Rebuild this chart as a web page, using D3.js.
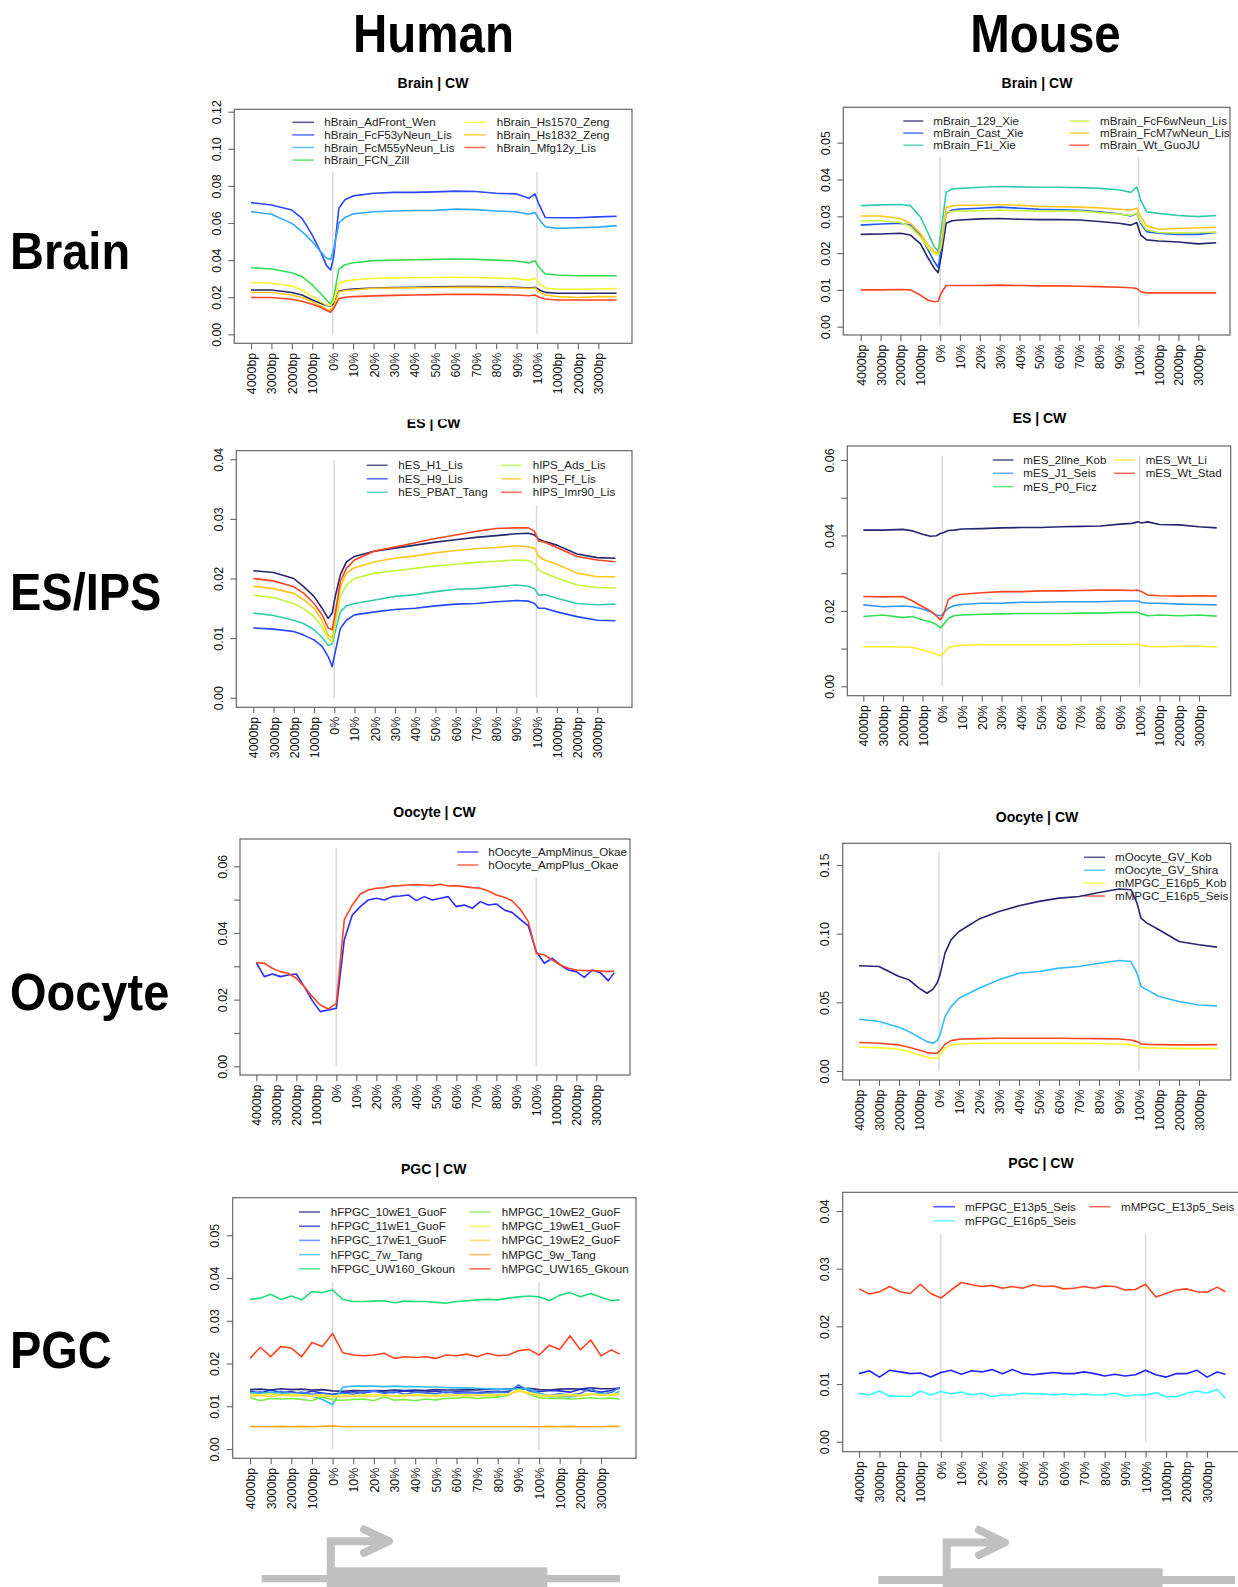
<!DOCTYPE html>
<html>
<head>
<meta charset="utf-8">
<script src="https://cdn.jsdelivr.net/npm/d3@7"></script>
<style>
  body { margin: 0; background: #fff; }
  svg { display: block; }
  text { font-family: "Liberation Sans", Arial, Helvetica, sans-serif; }
</style>
</head>
<body>
<svg id="fig" width="1238" height="1587"></svg>
<script>
// x positions are in "tick units": 0 = 4000bp upstream, 4 = TSS (0%), 14 = TES (100%)
let tickLabels = ["4000bp", "3000bp", "2000bp", "1000bp", "0%", "10%", "20%", "30%", "40%", "50%",
  "60%", "70%", "80%", "90%", "100%", "1000bp", "2000bp", "3000bp"];

let smoothPos = [0, 1, 2, 2.5, 3, 3.4, 3.7, 3.9, 4.05, 4.3, 4.6, 5, 6, 7, 8, 9, 10, 11, 12, 13,
  13.6, 13.9, 14.1, 14.4, 15, 16, 17, 17.9];
let oocytePos = [0, 0.4, 0.8, 1.2, 1.6, 2, 2.4, 2.8, 3.2, 3.6, 4, 4.4, 4.8, 5.2, 5.6, 6, 6.4, 6.8, 7.2, 7.6,
  8, 8.4, 8.8, 9.2, 9.6, 10, 10.4, 10.8, 11.2, 11.6, 12, 12.4, 12.8, 13.2, 13.6, 14, 14.4, 14.8, 15.2, 15.6,
  16, 16.4, 16.8, 17.2, 17.6, 17.9];
let pgcPos = [0, 0.5, 1, 1.5, 2, 2.5, 3, 3.5, 4, 4.5, 5, 5.5, 6, 6.5, 7, 7.5, 8, 8.5, 9, 9.5, 10, 10.5,
  11, 11.5, 12, 12.5, 13, 13.5, 14, 14.5, 15, 15.5, 16, 16.5, 17, 17.5, 17.9];

// ---- Human brain
let hBrainNames = ["hBrain_AdFront_Wen", "hBrain_FcF53yNeun_Lis", "hBrain_FcM55yNeun_Lis", "hBrain_FCN_Zill",
  "hBrain_Hs1570_Zeng", "hBrain_Hs1832_Zeng", "hBrain_Mfg12y_Lis"];
let hBrainValues = [
  [0.0239,0.0239,0.0225,0.0212,0.0185,0.0167,0.0155,0.0153,0.0165,0.0232,0.0240,0.0244,0.0250,0.0252,0.0254,0.0256,0.0257,0.0257,0.0256,0.0253,0.0250,0.0253,0.0240,0.0226,0.0221,0.0221,0.0221,0.0221],
  [0.0710,0.0697,0.0670,0.0625,0.0535,0.0446,0.0370,0.0347,0.0420,0.0680,0.0725,0.0746,0.0760,0.0765,0.0765,0.0768,0.0772,0.0770,0.0760,0.0757,0.0733,0.0757,0.0700,0.0630,0.0628,0.0628,0.0633,0.0636],
  [0.0661,0.0647,0.0598,0.0553,0.0500,0.0446,0.0410,0.0404,0.0460,0.0600,0.0630,0.0649,0.0661,0.0665,0.0667,0.0668,0.0675,0.0672,0.0665,0.0660,0.0647,0.0656,0.0620,0.0580,0.0571,0.0574,0.0578,0.0586],
  [0.0359,0.0352,0.0332,0.0311,0.0266,0.0221,0.0185,0.0162,0.0200,0.0352,0.0375,0.0386,0.0397,0.0400,0.0402,0.0404,0.0406,0.0404,0.0400,0.0395,0.0385,0.0397,0.0360,0.0325,0.0320,0.0316,0.0316,0.0316],
  [0.0279,0.0275,0.0260,0.0239,0.0203,0.0176,0.0158,0.0156,0.0180,0.0275,0.0287,0.0293,0.0302,0.0304,0.0305,0.0306,0.0307,0.0306,0.0303,0.0300,0.0292,0.0302,0.0275,0.0250,0.0243,0.0243,0.0244,0.0246],
  [0.0225,0.0225,0.0212,0.0198,0.0176,0.0153,0.0135,0.0128,0.0150,0.0228,0.0236,0.0239,0.0248,0.0250,0.0251,0.0252,0.0253,0.0253,0.0252,0.0250,0.0247,0.0250,0.0228,0.0212,0.0203,0.0198,0.0203,0.0203],
  [0.0198,0.0198,0.0189,0.0178,0.0162,0.0146,0.0128,0.0119,0.0140,0.0192,0.0200,0.0203,0.0207,0.0210,0.0212,0.0214,0.0216,0.0215,0.0214,0.0212,0.0208,0.0212,0.0200,0.0190,0.0185,0.0185,0.0185,0.0185]
];
let hBrainColors = ["#26266e", "#2b47ff", "#33aaff", "#33dd55", "#f4f430", "#ffc61a", "#ff4422"];

// ---- Mouse brain
let mBrainNames = ["mBrain_129_Xie", "mBrain_Cast_Xie", "mBrain_F1i_Xie", "mBrain_FcF6wNeun_Lis",
  "mBrain_FcM7wNeun_Lis", "mBrain_Wt_GuoJU"];
let mBrainValues = [
  [0.0251,0.0252,0.0254,0.0249,0.0226,0.0186,0.0159,0.0147,0.0190,0.0281,0.0288,0.0290,0.0293,0.0294,0.0292,0.0291,0.0291,0.0290,0.0286,0.0281,0.0276,0.0283,0.0249,0.0236,0.0233,0.0230,0.0225,0.0228],
  [0.0276,0.0279,0.0281,0.0276,0.0249,0.0208,0.0177,0.0161,0.0208,0.0308,0.0317,0.0320,0.0322,0.0325,0.0322,0.0319,0.0318,0.0316,0.0312,0.0307,0.0301,0.0308,0.0281,0.0258,0.0254,0.0251,0.0251,0.0256],
  [0.0329,0.0331,0.0332,0.0329,0.0299,0.0254,0.0217,0.0204,0.0260,0.0365,0.0374,0.0376,0.0379,0.0381,0.0380,0.0379,0.0379,0.0378,0.0376,0.0372,0.0365,0.0380,0.0344,0.0312,0.0308,0.0302,0.0299,0.0302],
  [0.0288,0.0288,0.0283,0.0272,0.0245,0.0213,0.0199,0.0195,0.0217,0.0312,0.0313,0.0314,0.0315,0.0317,0.0315,0.0314,0.0314,0.0314,0.0310,0.0306,0.0303,0.0308,0.0285,0.0263,0.0256,0.0255,0.0256,0.0257],
  [0.0301,0.0301,0.0294,0.0281,0.0254,0.0222,0.0204,0.0199,0.0226,0.0324,0.0328,0.0330,0.0330,0.0332,0.0330,0.0327,0.0326,0.0325,0.0323,0.0319,0.0317,0.0322,0.0299,0.0274,0.0265,0.0267,0.0269,0.0270],
  [0.0100,0.0100,0.0101,0.0100,0.0086,0.0072,0.0068,0.0069,0.0091,0.0112,0.0112,0.0112,0.0112,0.0113,0.0112,0.0111,0.0111,0.0110,0.0109,0.0107,0.0106,0.0104,0.0095,0.0092,0.0092,0.0092,0.0092,0.0092]
];
let mBrainColors = ["#26266e", "#2255ff", "#33ccaa", "#c8f53a", "#ffc61a", "#ff4422"];

// ---- Human ES / IPS
let hEsNames = ["hES_H1_Lis", "hES_H9_Lis", "hES_PBAT_Tang", "hIPS_Ads_Lis", "hIPS_Ff_Lis", "hIPS_Imr90_Lis"];
let hEsValues = [
  [0.0213,0.0210,0.0200,0.0186,0.0170,0.0150,0.0133,0.0142,0.0170,0.0206,0.0228,0.0237,0.0246,0.0251,0.0256,0.0261,0.0265,0.0269,0.0272,0.0275,0.0276,0.0273,0.0266,0.0262,0.0256,0.0241,0.0235,0.0234],
  [0.0117,0.0115,0.0111,0.0105,0.0097,0.0086,0.0069,0.0052,0.0077,0.0116,0.0130,0.0139,0.0144,0.0148,0.0150,0.0154,0.0157,0.0158,0.0161,0.0163,0.0162,0.0158,0.0150,0.0150,0.0144,0.0136,0.0130,0.0129],
  [0.0142,0.0138,0.0130,0.0124,0.0114,0.0101,0.0088,0.0090,0.0111,0.0144,0.0154,0.0158,0.0164,0.0170,0.0173,0.0178,0.0182,0.0183,0.0186,0.0189,0.0187,0.0183,0.0172,0.0173,0.0167,0.0158,0.0156,0.0157],
  [0.0172,0.0168,0.0158,0.0149,0.0136,0.0119,0.0100,0.0093,0.0122,0.0170,0.0189,0.0200,0.0209,0.0213,0.0217,0.0221,0.0224,0.0227,0.0229,0.0231,0.0230,0.0225,0.0214,0.0209,0.0201,0.0189,0.0185,0.0184],
  [0.0187,0.0183,0.0175,0.0164,0.0150,0.0130,0.0105,0.0100,0.0133,0.0186,0.0209,0.0218,0.0228,0.0234,0.0238,0.0243,0.0247,0.0250,0.0252,0.0255,0.0253,0.0251,0.0237,0.0231,0.0224,0.0209,0.0203,0.0203],
  [0.0200,0.0196,0.0186,0.0175,0.0158,0.0139,0.0117,0.0114,0.0142,0.0195,0.0217,0.0231,0.0246,0.0253,0.0260,0.0267,0.0273,0.0279,0.0284,0.0285,0.0285,0.0279,0.0263,0.0261,0.0252,0.0237,0.0231,0.0228]
];
let hEsColors = ["#26266e", "#2447ff", "#33ccaa", "#c0f53a", "#ffc61a", "#ff4422"];

// ---- Mouse ES
let mEsNames = ["mES_2line_Kob", "mES_J1_Seis", "mES_P0_Ficz", "mES_Wt_Li", "mES_Wt_Stad"];
let mEsValues = [
  [0.0414,0.0414,0.0416,0.0412,0.0403,0.0398,0.0399,0.0405,0.0407,0.0413,0.0414,0.0417,0.0418,0.0420,0.0421,0.0421,0.0423,0.0424,0.0425,0.0430,0.0432,0.0436,0.0433,0.0436,0.0429,0.0428,0.0423,0.0420],
  [0.0216,0.0211,0.0213,0.0211,0.0205,0.0198,0.0189,0.0187,0.0193,0.0207,0.0214,0.0217,0.0220,0.0220,0.0223,0.0223,0.0224,0.0224,0.0224,0.0226,0.0226,0.0226,0.0222,0.0220,0.0220,0.0218,0.0217,0.0216],
  [0.0185,0.0189,0.0182,0.0185,0.0176,0.0171,0.0164,0.0155,0.0163,0.0180,0.0187,0.0189,0.0191,0.0192,0.0193,0.0193,0.0193,0.0194,0.0194,0.0196,0.0196,0.0196,0.0192,0.0187,0.0189,0.0187,0.0189,0.0186],
  [0.0105,0.0105,0.0104,0.0103,0.0096,0.0090,0.0085,0.0081,0.0087,0.0102,0.0107,0.0109,0.0110,0.0110,0.0110,0.0110,0.0110,0.0111,0.0111,0.0111,0.0111,0.0112,0.0108,0.0106,0.0105,0.0106,0.0106,0.0104],
  [0.0238,0.0237,0.0238,0.0226,0.0211,0.0200,0.0187,0.0176,0.0189,0.0229,0.0240,0.0244,0.0248,0.0251,0.0251,0.0253,0.0253,0.0254,0.0255,0.0255,0.0254,0.0255,0.0251,0.0242,0.0240,0.0239,0.0240,0.0239]
];
let mEsColors = ["#26266e", "#3399ff", "#33e055", "#ffe82a", "#ff4422"];

// ---- Human oocyte
let hOocyteNames = ["hOocyte_AmpMinus_Okae", "hOocyte_AmpPlus_Okae"];
let hOocyteValues = [
  [0.0311,0.0269,0.0277,0.0269,0.0274,0.0277,0.0239,0.0197,0.0164,0.0169,0.0174,0.0380,0.0454,0.0479,0.0499,0.0504,0.0499,0.0509,0.0511,0.0514,0.0497,0.0509,0.0499,0.0504,0.0509,0.0479,0.0484,0.0474,0.0494,0.0484,0.0487,0.0469,0.0461,0.0441,0.0421,0.0344,0.0309,0.0324,0.0304,0.0289,0.0284,0.0267,0.0289,0.0281,0.0257,0.0281],
  [0.0311,0.0309,0.0294,0.0284,0.0279,0.0264,0.0239,0.0209,0.0184,0.0172,0.0189,0.0440,0.0484,0.0517,0.0529,0.0534,0.0536,0.0541,0.0542,0.0544,0.0545,0.0544,0.0542,0.0546,0.0541,0.0542,0.0539,0.0536,0.0534,0.0526,0.0514,0.0507,0.0496,0.0471,0.0434,0.0339,0.0334,0.0319,0.0304,0.0294,0.0289,0.0287,0.0287,0.0286,0.0284,0.0286]
];
let hOocyteColors = ["#2a2aff", "#ff4422"];

// ---- Mouse oocyte
let mOocyteNames = ["mOocyte_GV_Kob", "mOocyte_GV_Shira", "mMPGC_E16p5_Kob", "mMPGC_E16p5_Seis"];
let mOocyteValues = [
  [0.0766,0.0761,0.0688,0.0664,0.0603,0.0566,0.0596,0.0639,0.0700,0.0858,0.0955,0.1016,0.1106,0.1162,0.1203,0.1235,0.1259,0.1271,0.1300,0.1325,0.1320,0.1223,0.1113,0.1077,0.1028,0.0943,0.0919,0.0902],
  [0.0377,0.0360,0.0318,0.0287,0.0246,0.0214,0.0202,0.0221,0.0263,0.0396,0.0469,0.0530,0.0603,0.0664,0.0712,0.0724,0.0749,0.0761,0.0785,0.0805,0.0797,0.0712,0.0615,0.0591,0.0542,0.0506,0.0481,0.0474],
  [0.0173,0.0170,0.0158,0.0141,0.0117,0.0100,0.0092,0.0092,0.0117,0.0165,0.0190,0.0197,0.0202,0.0202,0.0202,0.0202,0.0202,0.0201,0.0200,0.0197,0.0190,0.0182,0.0170,0.0168,0.0167,0.0163,0.0163,0.0163],
  [0.0207,0.0202,0.0190,0.0173,0.0153,0.0134,0.0129,0.0129,0.0148,0.0194,0.0221,0.0231,0.0236,0.0238,0.0238,0.0238,0.0238,0.0237,0.0236,0.0233,0.0226,0.0214,0.0197,0.0194,0.0192,0.0190,0.0190,0.0192]
];
let mOocyteColors = ["#26266e", "#33bbff", "#f7f72a", "#ff4422"];

// ---- Human PGC
let hPgcNames = ["hFPGC_10wE1_GuoF", "hFPGC_11wE1_GuoF", "hFPGC_17wE1_GuoF", "hFPGC_7w_Tang", "hFPGC_UW160_Gkoun",
  "hMPGC_10wE2_GuoF", "hMPGC_19wE1_GuoF", "hMPGC_19wE2_GuoF", "hMPGC_9w_Tang", "hMPGC_UW165_Gkoun"];
let hPgcValues = [
  [0.0139,0.0140,0.0138,0.0141,0.0139,0.0140,0.0138,0.0139,0.0136,0.0135,0.0137,0.0136,0.0137,0.0136,0.0138,0.0137,0.0138,0.0137,0.0139,0.0138,0.0138,0.0139,0.0138,0.0140,0.0139,0.0141,0.0140,0.0142,0.0139,0.0138,0.0140,0.0141,0.0140,0.0143,0.0141,0.0141,0.0142],
  [0.0135,0.0131,0.0138,0.0132,0.0134,0.0130,0.0135,0.0131,0.0128,0.0132,0.0134,0.0131,0.0135,0.0133,0.0132,0.0136,0.0134,0.0133,0.0135,0.0132,0.0134,0.0133,0.0132,0.0134,0.0133,0.0135,0.0145,0.0138,0.0134,0.0137,0.0136,0.0133,0.0140,0.0136,0.0133,0.0137,0.0142],
  [0.0130,0.0134,0.0127,0.0135,0.0129,0.0133,0.0128,0.0130,0.0126,0.0131,0.0128,0.0133,0.0136,0.0130,0.0134,0.0128,0.0133,0.0131,0.0129,0.0134,0.0130,0.0132,0.0131,0.0130,0.0133,0.0132,0.0150,0.0136,0.0130,0.0125,0.0129,0.0126,0.0130,0.0142,0.0128,0.0132,0.0145],
  [0.0132,0.0130,0.0133,0.0131,0.0130,0.0128,0.0124,0.0116,0.0104,0.0145,0.0147,0.0147,0.0147,0.0146,0.0147,0.0146,0.0146,0.0145,0.0145,0.0144,0.0143,0.0143,0.0142,0.0141,0.0140,0.0140,0.0140,0.0141,0.0130,0.0122,0.0123,0.0122,0.0125,0.0128,0.0130,0.0126,0.0135],
  [0.0350,0.0353,0.0362,0.0350,0.0358,0.0349,0.0368,0.0366,0.0372,0.0350,0.0345,0.0345,0.0346,0.0347,0.0342,0.0346,0.0345,0.0345,0.0343,0.0341,0.0345,0.0347,0.0349,0.0350,0.0349,0.0353,0.0356,0.0358,0.0356,0.0347,0.0360,0.0366,0.0356,0.0364,0.0355,0.0347,0.0349],
  [0.0120,0.0113,0.0118,0.0117,0.0118,0.0116,0.0113,0.0122,0.0115,0.0114,0.0116,0.0117,0.0113,0.0122,0.0114,0.0116,0.0113,0.0117,0.0115,0.0118,0.0119,0.0121,0.0118,0.0120,0.0122,0.0125,0.0140,0.0128,0.0120,0.0118,0.0119,0.0117,0.0118,0.0120,0.0118,0.0119,0.0117],
  [0.0128,0.0127,0.0129,0.0126,0.0128,0.0127,0.0125,0.0127,0.0124,0.0126,0.0125,0.0126,0.0127,0.0126,0.0125,0.0126,0.0127,0.0126,0.0125,0.0127,0.0126,0.0127,0.0126,0.0128,0.0127,0.0128,0.0138,0.0132,0.0127,0.0125,0.0126,0.0127,0.0126,0.0130,0.0127,0.0128,0.0130],
  [0.0124,0.0125,0.0123,0.0126,0.0124,0.0125,0.0123,0.0124,0.0122,0.0123,0.0124,0.0123,0.0124,0.0125,0.0123,0.0124,0.0125,0.0124,0.0123,0.0124,0.0125,0.0124,0.0125,0.0124,0.0126,0.0127,0.0135,0.0130,0.0124,0.0123,0.0124,0.0125,0.0124,0.0128,0.0125,0.0126,0.0128],
  [0.0053,0.0052,0.0052,0.0053,0.0052,0.0053,0.0052,0.0053,0.0054,0.0052,0.0052,0.0052,0.0052,0.0052,0.0052,0.0052,0.0052,0.0052,0.0052,0.0052,0.0052,0.0052,0.0052,0.0052,0.0052,0.0052,0.0052,0.0052,0.0052,0.0053,0.0052,0.0053,0.0052,0.0052,0.0052,0.0053,0.0053],
  [0.0212,0.0238,0.0216,0.0240,0.0236,0.0216,0.0249,0.0240,0.0270,0.0225,0.0220,0.0218,0.0220,0.0224,0.0212,0.0216,0.0214,0.0216,0.0212,0.0220,0.0218,0.0222,0.0216,0.0224,0.0218,0.0220,0.0230,0.0233,0.0220,0.0243,0.0233,0.0265,0.0232,0.0255,0.0218,0.0232,0.0222]
];
let hPgcColors = ["#2a2a7a", "#2233cc", "#4477ff", "#33bbee", "#22dd77", "#77ee44", "#f5f540", "#ffd83a", "#ffaa22", "#ff4422"];

// ---- Mouse PGC
let mPgcNames = ["mFPGC_E13p5_Seis", "mFPGC_E16p5_Seis", "mMPGC_E13p5_Seis"];
let mPgcValues = [
  [0.0118,0.0123,0.0112,0.0124,0.0121,0.0118,0.0119,0.0112,0.0120,0.0124,0.0117,0.0123,0.0121,0.0125,0.0118,0.0125,0.0118,0.0116,0.0118,0.0120,0.0118,0.0118,0.0121,0.0118,0.0114,0.0117,0.0114,0.0116,0.0124,0.0116,0.0112,0.0118,0.0118,0.0124,0.0112,0.0121,0.0117],
  [0.0084,0.0081,0.0088,0.0079,0.0079,0.0078,0.0088,0.0081,0.0087,0.0083,0.0086,0.0081,0.0084,0.0078,0.0081,0.0081,0.0084,0.0083,0.0083,0.0081,0.0083,0.0081,0.0083,0.0081,0.0081,0.0084,0.0079,0.0081,0.0081,0.0085,0.0078,0.0078,0.0084,0.0088,0.0084,0.0091,0.0075],
  [0.0265,0.0256,0.0260,0.0269,0.0260,0.0257,0.0273,0.0257,0.0249,0.0263,0.0276,0.0272,0.0269,0.0271,0.0266,0.0269,0.0266,0.0272,0.0269,0.0270,0.0265,0.0266,0.0269,0.0266,0.0270,0.0269,0.0263,0.0264,0.0273,0.0251,0.0257,0.0263,0.0265,0.0260,0.0259,0.0268,0.0260]
];
let mPgcColors = ["#2222ff", "#33ffff", "#ff4422"];

let rowLabels = [["Brain", 269], ["ES/IPS", 610], ["Oocyte", 1010], ["PGC", 1368]];
let colLabels = [["Human", 433.5, 52], ["Mouse", 1045.5, 52]];

let panels = [
  { title: "Brain | CW", tx: 433, ty: 88, box: [234.3, 109.3, 632, 343.3], x0: 251, x17: 598.3,
    y0: 334.3, yTop: 111.7, yMax: 0.12, yStep: 0.02, labelEvery: 1,
    names: hBrainNames, values: hBrainValues, colors: hBrainColors, pos: smoothPos,
    leg: { row1: 122.3, dy: 12.6, cols: [[292.3, 314, 324.3], [464.3, 485.7, 496.7]], perCol: 4, bg: true } },
  { title: "Brain | CW", tx: 1037, ty: 88.3, box: [843.3, 107.3, 1230, 335], x0: 860.7, x17: 1198.3,
    y0: 326.7, yTop: 142.7, yMax: 0.05, yStep: 0.01, labelEvery: 1,
    names: mBrainNames, values: mBrainValues, colors: mBrainColors, pos: smoothPos,
    leg: { row1: 121, dy: 12.1, cols: [[903.3, 923.3, 933.3], [1069.3, 1089.3, 1100]], perCol: 3, bg: true } },
  { title: "ES | CW", tx: 433.7, ty: 427.7, clipTop: 419.5, box: [236.3, 450.7, 632, 707.3], x0: 253.3, x17: 597.3,
    y0: 697.7, yTop: 459.3, yMax: 0.04, yStep: 0.01, labelEvery: 1,
    names: hEsNames, values: hEsValues, colors: hEsColors, pos: smoothPos,
    leg: { row1: 465.3, dy: 13.5, cols: [[366.7, 387.7, 398.3], [501, 521.7, 532.7]], perCol: 3, bg: true } },
  { title: "ES | CW", tx: 1039.5, ty: 423.3, box: [847.3, 446, 1230.7, 695.7], x0: 863.3, x17: 1199,
    y0: 686.3, yTop: 460, yMax: 0.06, yStep: 0.01, labelEvery: 2,
    names: mEsNames, values: mEsValues, colors: mEsColors, pos: smoothPos,
    leg: { row1: 460, dy: 13.3, cols: [[992.7, 1013.3, 1023.3], [1114, 1135, 1145.7]], perCol: 3, bg: false } },
  { title: "Oocyte | CW", tx: 434.5, ty: 817.3, box: [240, 839, 630, 1075], x0: 256.3, x17: 596.3,
    y0: 1066.3, yTop: 866.3, yMax: 0.06, yStep: 0.01, labelEvery: 2,
    names: hOocyteNames, values: hOocyteValues, colors: hOocyteColors, pos: oocytePos,
    leg: { row1: 852, dy: 13, cols: [[457.3, 478.3, 488.3]], perCol: 2, bg: true } },
  { title: "Oocyte | CW", tx: 1037, ty: 822.3, box: [842.7, 843.3, 1230.7, 1080], x0: 859, x17: 1199,
    y0: 1071, yTop: 865, yMax: 0.15, yStep: 0.05, labelEvery: 1,
    names: mOocyteNames, values: mOocyteValues, colors: mOocyteColors, pos: smoothPos,
    leg: { row1: 857.3, dy: 12.9, cols: [[1084, 1105, 1115]], perCol: 4, bg: true } },
  { title: "PGC | CW", tx: 433.7, ty: 1174.3, box: [232.7, 1197.7, 636, 1458.3], x0: 250, x17: 601,
    y0: 1449, yTop: 1235.3, yMax: 0.05, yStep: 0.01, labelEvery: 1,
    names: hPgcNames, values: hPgcValues, colors: hPgcColors, pos: pgcPos,
    leg: { row1: 1212, dy: 14.2, cols: [[299, 320, 330.7], [469.3, 490.7, 501.7]], perCol: 5, bg: true } },
  { title: "PGC | CW", tx: 1041, ty: 1168.3, box: [842.7, 1192.3, 1240, 1451.7], x0: 859, x17: 1207,
    y0: 1441.7, yTop: 1211, yMax: 0.04, yStep: 0.01, labelEvery: 1,
    names: mPgcNames, values: mPgcValues, colors: mPgcColors, pos: pgcPos,
    leg: { row1: 1206.7, dy: 14, cols: [[933.3, 955, 965], [1089.3, 1110.7, 1121]], perCol: 2, bg: true } }
];

const svg = d3.select("#fig");
const boxColor = "#666";
const gray = "#c0c0c0";

const drawPanel = (p, idx) => {
  let g = svg.append("g");
  let x = d3.scaleLinear().domain([0, 17]).range([p.x0, p.x17]);
  let y = d3.scaleLinear().domain([0, p.yMax]).range([p.y0, p.yTop]);
  let [L, T, R, B] = p.box;

  // title (one of them is partly hidden in the original montage)
  let title = g.append("text")
    .attr("x", p.tx).attr("y", p.ty)
    .attr("text-anchor", "middle")
    .attr("font-size", 14).attr("font-weight", "bold")
    .text(p.title);
  if (p.clipTop) {
    svg.append("clipPath").attr("id", "clip" + idx)
      .append("rect").attr("x", p.tx - 80).attr("y", p.clipTop).attr("width", 160).attr("height", 40);
    title.attr("clip-path", `url(#clip${idx})`);
  }

  // vertical markers at TSS and TES
  let vTop = T + (B - p.y0);
  g.selectAll("line.mark").data([4, 14]).enter().append("line")
    .attr("x1", d => x(d)).attr("x2", d => x(d))
    .attr("y1", vTop).attr("y2", p.y0)
    .attr("stroke", "#dadada").attr("stroke-width", 1.5);

  // axes
  let xAxis = d3.axisBottom(x).tickValues(d3.range(18))
    .tickFormat(i => tickLabels[i]).tickSize(6).tickSizeOuter(0);
  let gx = g.append("g").attr("transform", `translate(0,${B})`).call(xAxis);
  gx.select(".domain").remove();
  gx.selectAll("line").attr("stroke", boxColor).attr("stroke-width", 1.1);
  gx.selectAll("text")
    .attr("transform", "rotate(-90)")
    .attr("x", -9.5).attr("y", 0).attr("dy", "0.36em")
    .attr("text-anchor", "end")
    .attr("font-size", 12.4).attr("fill", "#111")
    .attr("font-family", "'Liberation Sans', Arial, sans-serif");

  let yTicks = d3.range(0, p.yMax + p.yStep / 2, p.yStep);
  let yAxis = d3.axisLeft(y).tickValues(yTicks)
    .tickFormat((d, i) => i % p.labelEvery === 0 ? d3.format(".2f")(d) : "")
    .tickSize(6).tickSizeOuter(0);
  let gy = g.append("g").attr("transform", `translate(${L},0)`).call(yAxis);
  gy.select(".domain").remove();
  gy.selectAll("line").attr("stroke", boxColor).attr("stroke-width", 1.1);
  gy.selectAll("text")
    .attr("transform", "rotate(-90)")
    .attr("x", 0).attr("y", -13.5).attr("dy", 0)
    .attr("text-anchor", "middle")
    .attr("font-size", 12.4).attr("fill", "#111")
    .attr("font-family", "'Liberation Sans', Arial, sans-serif");

  // legend
  let leg = p.leg;
  let lastCol = leg.cols[leg.cols.length - 1];
  if (leg.bg) {
    let rows = Math.min(leg.perCol, p.names.length);
    let longest = d3.max(p.names.slice(leg.perCol * (leg.cols.length - 1)), n => n.length);
    g.append("rect")
      .attr("x", leg.cols[0][0] - 8)
      .attr("y", leg.row1 - leg.dy + 2)
      .attr("width", lastCol[2] + longest * 6.6 + 6 - (leg.cols[0][0] - 8))
      .attr("height", leg.dy * (rows + 0.8))
      .attr("fill", "#fff");
  }
  p.names.forEach((name, i) => {
    let c = leg.cols[Math.floor(i / leg.perCol)];
    let ry = leg.row1 + (i % leg.perCol) * leg.dy;
    g.append("line")
      .attr("x1", c[0]).attr("x2", c[1]).attr("y1", ry).attr("y2", ry)
      .attr("stroke", p.colors[i]).attr("stroke-width", 1.6).attr("opacity", 0.75);
    g.append("text")
      .attr("x", c[2]).attr("y", ry + 4)
      .attr("font-size", 11.6).attr("fill", "#222")
      .text(name);
  });

  // box
  g.append("rect")
    .attr("x", L).attr("y", T).attr("width", R - L).attr("height", B - T)
    .attr("fill", "none").attr("stroke", boxColor).attr("stroke-width", 1.2);

  // data lines
  let line = d3.line().x((d, i) => x(p.pos[i])).y(d => y(d));
  p.values.forEach((vals, i) => {
    if (vals.length !== p.pos.length) console.error("length mismatch", p.names[i], vals.length, p.pos.length);
    g.append("path")
      .attr("d", line(vals))
      .attr("fill", "none")
      .attr("stroke", p.colors[i])
      .attr("stroke-width", 1.6)
      .attr("stroke-linejoin", "round");
  });
};

panels.forEach(drawPanel);

// big labels
colLabels.forEach(([t, cx, by]) => {
  svg.append("text")
    .attr("transform", `translate(${cx},${by}) scale(1,1.12)`)
    .attr("text-anchor", "middle")
    .attr("font-size", 47.5).attr("font-weight", "bold")
    .text(t);
});
rowLabels.forEach(([t, by]) => {
  svg.append("text")
    .attr("transform", `translate(10,${by}) scale(1,1.12)`)
    .attr("font-size", 47).attr("font-weight", "bold")
    .text(t);
});

// gene model sketches at the bottom
let genes = [
  { thin: [261.7, 620], thinY: [1575, 1582.3], thick: [326.7, 547.3], thickTop: 1567.3,
    stemX: 330.8, armY: 1541.2, tip: 389, headBack: 364, headH: 11.7 },
  { thin: [878.3, 1235], thinY: [1576, 1584], thick: [942.7, 1162.7], thickTop: 1568.3,
    stemX: 946.7, armY: 1542.5, tip: 1005, headBack: 979, headH: 12.5 }
];
genes.forEach(gm => {
  let g = svg.append("g").attr("fill", gray);
  g.append("rect").attr("x", gm.thin[0]).attr("y", gm.thinY[0])
    .attr("width", gm.thin[1] - gm.thin[0]).attr("height", gm.thinY[1] - gm.thinY[0]);
  g.append("rect").attr("x", gm.thick[0]).attr("y", gm.thickTop)
    .attr("width", gm.thick[1] - gm.thick[0]).attr("height", 1590 - gm.thickTop);
  g.append("path")
    .attr("d", `M${gm.stemX},${gm.thickTop + 1} V${gm.armY} H${gm.tip - 3}`)
    .attr("fill", "none").attr("stroke", gray).attr("stroke-width", 8);
  g.append("path")
    .attr("d", `M${gm.headBack},${gm.armY - gm.headH} L${gm.tip},${gm.armY} L${gm.headBack},${gm.armY + gm.headH}`)
    .attr("fill", "none").attr("stroke", gray).attr("stroke-width", 8)
    .attr("stroke-linecap", "round").attr("stroke-linejoin", "round");
});
</script>
</body>
</html>
